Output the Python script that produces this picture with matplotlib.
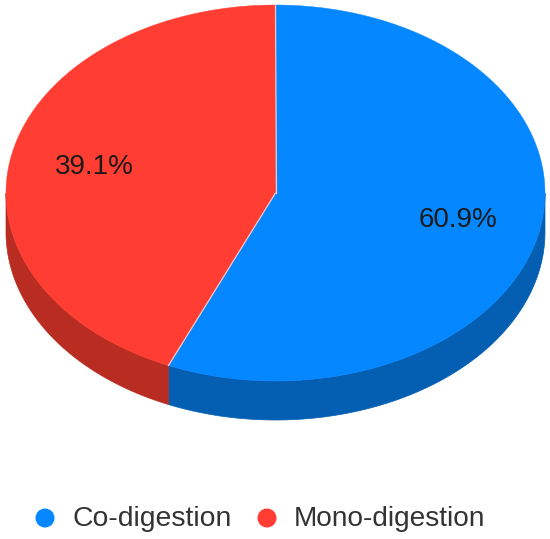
import numpy as np
import matplotlib
matplotlib.use('Agg')
import matplotlib.pyplot as plt
from matplotlib.patches import Polygon, Circle

# data
labels = ['Co-digestion', 'Mono-digestion']
percent_labels = ['60.9%', '39.1%']
# the slices in the picture are not drawn to the printed percentages,
# these are the shares as they were read off the drawing
slice_shares = [56.5, 43.5]
colors = ['#0587FF', '#FF3D32']
side_colors = ['#045FB3', '#B92C22']

W, H = 550, 539
CX, CY = 275.5, 193.0   # centre of the top ellipse, pixels
RX, RY = 269.5, 188.0
DEPTH = 39

fig = plt.figure(figsize=(W / 100, H / 100), dpi=100, facecolor='white')
ax = fig.add_axes([0, 0, 1, 1])
ax.set_xlim(0, W)
ax.set_ylim(H, 0)
ax.axis('off')


def rim(a0, a1):
    # angles clockwise from 12 o'clock
    t = np.radians(np.linspace(a0, a1, 200))
    return CX + RX * np.sin(t), CY - RY * np.cos(t)


start = 0.0
for share, col, side in zip(slice_shares, colors, side_colors):
    end = start + share * 3.6
    # side wall only on the front half of the ellipse
    a0, a1 = max(start, 90), min(end, 270)
    if a1 > a0:
        x, y = rim(a0, a1)
        pts = np.r_[np.c_[x, y], np.c_[x[::-1], y[::-1] + DEPTH]]
        ax.add_patch(Polygon(pts, closed=True, fc=side, ec=side, lw=0.5, zorder=1))
    x, y = rim(start, end)
    pts = np.r_[[[CX, CY]], np.c_[x, y]]
    ax.add_patch(Polygon(pts, closed=True, fc=col, ec=col, lw=0.3, zorder=2))
    # light line only along the slice edges, not round the rim
    ax.plot([CX, x[-1]], [CY, y[-1]], color='#E8C9D0', lw=0.9, zorder=3)
    start = end

# percent labels
ax.text(458, 220, percent_labels[0], ha='center', va='center', fontsize=20,
        family='Liberation Sans', color='#1A1A1A', zorder=4)
ax.text(94, 167, percent_labels[1], ha='center', va='center', fontsize=20,
        family='Liberation Sans', color='#1A1A1A', zorder=4)

# legend
ax.add_patch(Circle((45, 518), 9.5, fc=colors[0], ec='none'))
ax.text(72, 519, labels[0], ha='left', va='center', fontsize=20.4,
        family='Liberation Sans', color='#333333')
ax.add_patch(Circle((267, 518), 9.5, fc=colors[1], ec='none'))
ax.text(294, 519, labels[1], ha='left', va='center', fontsize=20.2,
        family='Liberation Sans', color='#333333')

fig.savefig('out.png', dpi=100)
